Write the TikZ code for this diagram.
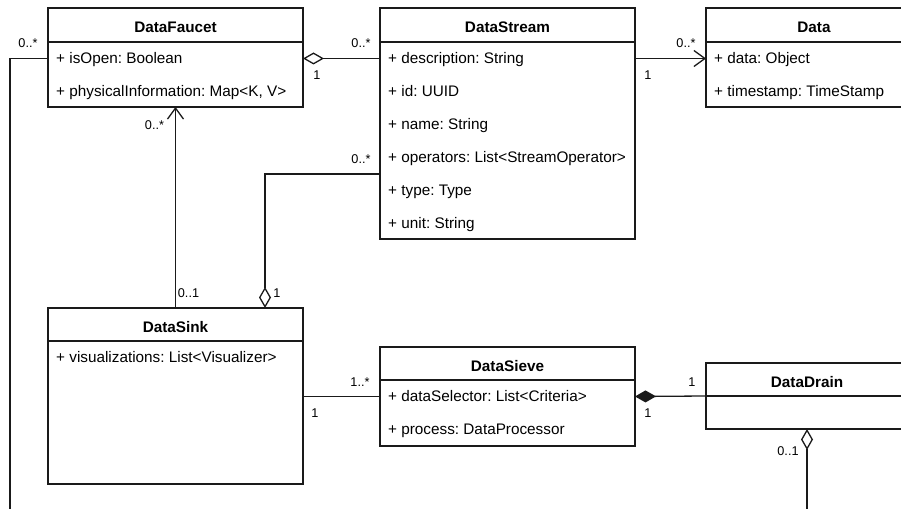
\documentclass[tikz,border=0pt]{standalone}
\usepackage{fontspec}
\setmainfont{Liberation Sans}
\usepackage{tikz}
\usepackage{xcolor}
\usetikzlibrary{calc,arrows.meta}
\frenchspacing
\definecolor{linecolorc}{HTML}{1A1A1A}
\colorlet{linecolor}{linecolorc}
\colorlet{textcolor}{black}
\newcommand{\attrfont}{\fontsize{15.3}{18}\selectfont}
\newcommand{\multfont}{\fontsize{12.7}{15}\selectfont}
\tikzstyle{classhead} = [
    draw=linecolor,
    line width=1.3pt,
    rectangle,
    anchor=north west,
    minimum height=34pt,
    outer sep=0pt,
    inner sep=0pt,
    text height=16pt,
    text depth=0pt,
    font=\attrfont\bfseries
    ]
\tikzstyle{classbody} = [
    draw=linecolor,
    line width=1.3pt,
    rectangle,
    anchor=north west,
    outer sep=0pt,
    inner sep=0pt
    ]
\tikzstyle{attr} = [
    anchor=west,
    inner sep=0pt,
    text height=11pt,
    text depth=0pt,
    text=textcolor,
    font=\attrfont
    ]
\tikzstyle{mult} = [inner sep=0pt, text=textcolor, font=\multfont]
\tikzstyle{link} = [draw=linecolor, line width=1.3pt]
\tikzstyle{aggregation} = [link, -{Diamond[open, fill=white, length=21pt, width=12pt]}]
\tikzstyle{composition} = [link, -{Diamond[length=21pt, width=12pt]}]
\tikzstyle{navigable} = [link, -{Straight Barb[length=11pt, width=16pt]}]

\begin{document}
\begin{tikzpicture}[x=1pt, y=1pt]
\useasboundingbox (0,0) rectangle (901,508);
\clip (0,0) rectangle (901,508);

% classes
\node[classhead, minimum width=255pt] (faucethead) at (48,500) {DataFaucet};
\node[classbody, minimum width=255pt, minimum height=65pt] (faucetbody) at (faucethead.south west) {};
\node[attr] (isopen) at ([xshift=8pt, yshift=-16.5pt]faucetbody.north west) {+ isOpen: Boolean};
\node[attr] (physinfo) at ([yshift=-33pt]isopen.west) {+ physicalInformation: Map<K, V>};

\node[classhead, minimum width=255pt] (streamhead) at (380,500) {DataStream};
\node[classbody, minimum width=255pt, minimum height=197pt] (streambody) at (streamhead.south west) {};
\node[attr] (desc) at ([xshift=8pt, yshift=-16.5pt]streambody.north west) {+ description: String};
\node[attr] (ident) at ([yshift=-33pt]desc.west) {+ id: UUID};
\node[attr] (sname) at ([yshift=-33pt]ident.west) {+ name: String};
\node[attr] (ops) at ([yshift=-33pt]sname.west) {+ operators: List<StreamOperator>};
\node[attr] (kind) at ([yshift=-33pt]ops.west) {+ type: Type};
\node[attr] (unit) at ([yshift=-33pt]kind.west) {+ unit: String};

\node[classhead, minimum width=216pt] (datahead) at (706,500) {Data};
\node[classbody, minimum width=216pt, minimum height=65pt] (databody) at (datahead.south west) {};
\node[attr] (payload) at ([xshift=8pt, yshift=-16.5pt]databody.north west) {+ data: Object};
\node[attr] (stamp) at ([yshift=-33pt]payload.west) {+ timestamp: TimeStamp};

\node[classhead, minimum width=255pt, minimum height=33pt] (sinkhead) at (48,200) {DataSink};
\node[classbody, minimum width=255pt, minimum height=143pt] (sinkbody) at (sinkhead.south west) {};
\node[attr] (visual) at ([xshift=8pt, yshift=-16.5pt]sinkbody.north west) {+ visualizations: List<Visualizer>};

\node[classhead, minimum width=255pt, minimum height=33pt] (sievehead) at (380,161) {DataSieve};
\node[classbody, minimum width=255pt, minimum height=66pt] (sievebody) at (sievehead.south west) {};
\node[attr] (selector) at ([xshift=8pt, yshift=-16.5pt]sievebody.north west) {+ dataSelector: List<Criteria>};
\node[attr] (process) at ([yshift=-33pt]selector.west) {+ process: DataProcessor};

\node[classhead, minimum width=202pt, minimum height=33pt] (drainhead) at (706,145) {DataDrain};
\node[classbody, minimum width=202pt, minimum height=33pt] (drainbody) at (drainhead.south west) {};

% connectors
\coordinate (faucetport) at (isopen -| faucetbody.east);
\coordinate (streamport) at (desc -| streambody.west);
\draw[aggregation] (streamport) -- (faucetport);
\node[mult] at ([xshift=-19pt, yshift=15pt]streamport) {0..*};
\node[mult] at ([xshift=14pt, yshift=-17pt]faucetport) {1};

\coordinate (streamout) at (desc -| streambody.east);
\coordinate (datain) at (desc -| databody.west);
\draw[navigable] (streamout) -- (datain);
\node[mult] at ([xshift=-20pt, yshift=15pt]datain) {0..*};
\node[mult] at ([xshift=13pt, yshift=-17pt]streamout) {1};

\coordinate (faucetleft) at (isopen -| faucetbody.west);
\coordinate (leftend) at (10,-5);
\draw[link] (faucetleft) -| (leftend);
\node[mult] at ([xshift=-20pt, yshift=15pt]faucetleft) {0..*};

\draw[navigable] (sinkhead.north) -- (faucetbody.south);
\node[mult] at ([xshift=-21pt, yshift=-18pt]faucetbody.south) {0..*};
\node[mult] at ([xshift=13pt, yshift=15pt]sinkhead.north) {0..1};

\coordinate (opsport) at ([yshift=-16.5pt]ops.west -| streambody.west);
\coordinate (sinkport) at ([xshift=-38pt]sinkhead.north east);
\draw[aggregation] (opsport) -| (sinkport);
\node[mult] at ([xshift=-19pt, yshift=15pt]opsport) {0..*};
\node[mult] at ([xshift=12pt, yshift=15pt]sinkport) {1};

\coordinate (sinkout) at (selector -| sinkbody.east);
\coordinate (sievein) at (selector -| sievebody.west);
\draw[link] (sinkout) -- (sievein);
\node[mult] at ([xshift=-20pt, yshift=14pt]sievein) {1..*};
\node[mult] at ([xshift=12pt, yshift=-17pt]sinkout) {1};

\coordinate (sieveout) at (selector -| sievebody.east);
\draw[composition] (drainhead.south west) -- (sieveout);
\node[mult] at ([xshift=-14pt, yshift=14pt]drainhead.south west) {1};
\node[mult] at ([xshift=13pt, yshift=-17pt]sieveout) {1};

\coordinate (drainend) at (drainbody.south |- 0,-5);
\draw[aggregation] (drainend) -- (drainbody.south);
\node[mult] at ([xshift=-19pt, yshift=-22pt]drainbody.south) {0..1};
\end{tikzpicture}
\end{document}
